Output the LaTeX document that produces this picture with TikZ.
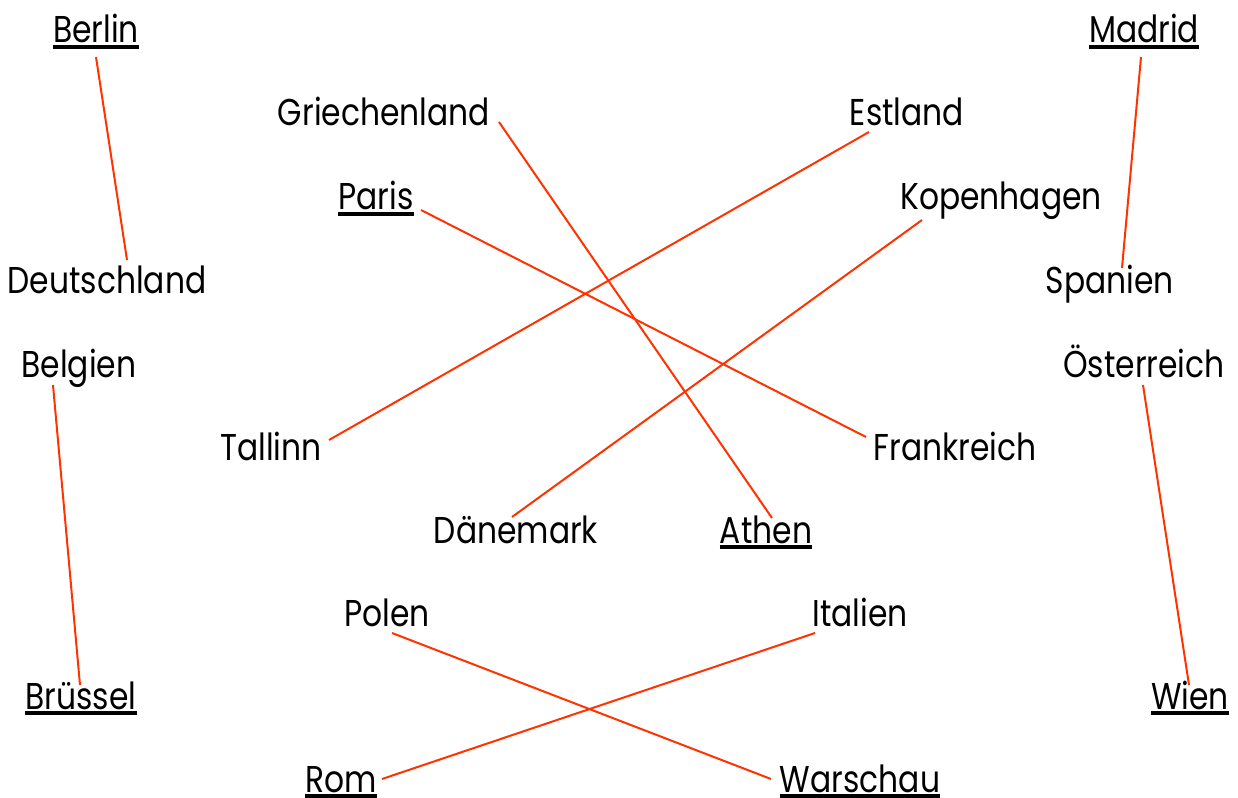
\documentclass[tikz,border=0pt]{standalone}
\usepackage{fontspec}
\setmainfont{Poppins}[FakeStretch=0.84]
\begin{document}
\begin{tikzpicture}[x=0.75pt,y=-0.75pt,
  lbl/.style={anchor=base,inner sep=0pt,font=\fontsize{28}{30}\selectfont},
  conn/.style={draw={rgb,255:red,255;green,51;blue,0},line width=1.5pt},
  ul/.style={draw=black,line width=2.8pt}]
\path[use as bounding box] (0,0) rectangle (1238,798);
\node[lbl] (berlin) at (96,43) {Berlin};
\node[lbl] (deutschland) at (107,294) {Deutschland};
\node[lbl] (belgien) at (79,378) {Belgien};
\node[lbl] (bruessel) at (81,709) {Brüssel};
\node[lbl] (griechenland) at (384,126) {Griechenland};
\node[lbl] (estland) at (907,126) {Estland};
\node[lbl] (paris) at (376,210) {Paris};
\node[lbl] (kopenhagen) at (1001,210) {Kopenhagen};
\node[lbl] (tallinn) at (271,460) {Tallinn};
\node[lbl] (frankreich) at (955,460) {Frankreich};
\node[lbl] (daenemark) at (516,543) {Dänemark};
\node[lbl] (athen) at (766,543) {Athen};
\node[lbl] (polen) at (387,626) {Polen};
\node[lbl] (italien) at (860,626) {Italien};
\node[lbl] (rom) at (341,792) {Rom};
\node[lbl] (warschau) at (860,792) {Warschau};
\node[lbl] (madrid) at (1144,43) {Madrid};
\node[lbl] (spanien) at (1110,294) {Spanien};
\node[lbl] (oesterreich) at (1144,378) {Österreich};
\node[lbl] (wien) at (1190,709) {Wien};
\foreach \n in {berlin,bruessel,paris,athen,rom,warschau,madrid,wien}
  \draw[ul] ([yshift=-3]\n.base west) -- ([yshift=-3]\n.base east);
\draw[conn] ([shift={(0,14)}]berlin.base) -- ([shift={(20,-34)}]deutschland.base);
\draw[conn] ([shift={(-26,7)}]belgien.base) -- ([shift={(-1,-24)}]bruessel.base);
\draw[conn] ([shift={(115,-4)}]griechenland.base) -- ([shift={(6,-25)}]athen.base);
\draw[conn] ([shift={(-38,6)}]estland.base) -- ([shift={(58,-20)}]tallinn.base);
\draw[conn] ([shift={(45,0)}]paris.base) -- ([shift={(-89,-23)}]frankreich.base);
\draw[conn] ([shift={(-79,10)}]kopenhagen.base) -- ([shift={(-4,-26)}]daenemark.base);
\draw[conn] ([shift={(5,7)}]polen.base) -- ([shift={(-89,-13)}]warschau.base);
\draw[conn] ([shift={(-45,7)}]italien.base) -- ([shift={(41,-13)}]rom.base);
\draw[conn] ([shift={(-3,14)}]madrid.base) -- ([shift={(12,-26)}]spanien.base);
\draw[conn] ([shift={(-1,7)}]oesterreich.base) -- ([shift={(-1,-24)}]wien.base);
\end{tikzpicture}
\end{document}
